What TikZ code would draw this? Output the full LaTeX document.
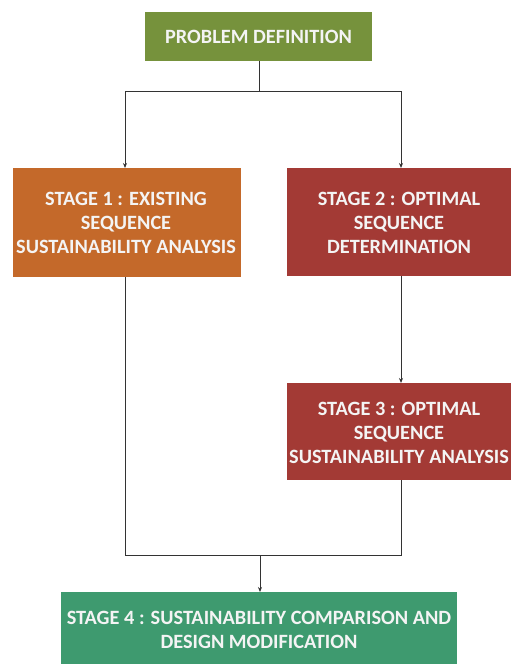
\documentclass[tikz,border=0pt]{standalone}
\usepackage{fontspec}
\setmainfont{Carlito}
\usetikzlibrary{arrows.meta}
\definecolor{olivebox}{HTML}{76923C}
\definecolor{orangebox}{HTML}{C4692A}
\definecolor{redbox}{HTML}{A33A35}
\definecolor{greenbox}{HTML}{3E9A6F}
\definecolor{txt}{HTML}{F4F4F4}
\begin{document}
\begin{tikzpicture}[x=1pt,y=-1pt,
  boxstyle/.style={draw=none,text=txt,font=\bfseries\fontsize{20.3}{24}\selectfont,align=center,inner sep=0pt},
  conn/.style={draw=black!80,line width=1pt},
  arr/.style={conn,-{Stealth[length=5pt,width=4pt]}}]
\useasboundingbox (0,0) rectangle (511,664);
\fill[olivebox] (145,12) rectangle (372,61);
\node[boxstyle] (pd) at (258.5,36.5) {PROBLEM DEFINITION};
\fill[orangebox] (13,168) rectangle (241,277);
\node[boxstyle] (s1) at (126,223) {STAGE 1 : EXISTING\\SEQUENCE\\SUSTAINABILITY ANALYSIS};
\fill[redbox] (287,168) rectangle (511,276);
\node[boxstyle] (s2) at (399,223) {STAGE 2 : OPTIMAL\\SEQUENCE\\DETERMINATION};
\fill[redbox] (287,383) rectangle (511,480);
\node[boxstyle] (s3) at (399,433) {STAGE 3 : OPTIMAL\\SEQUENCE\\SUSTAINABILITY ANALYSIS};
\fill[greenbox] (61,592) rectangle (457,664);
\node[boxstyle] (s4) at (259,630) {STAGE 4 : SUSTAINABILITY COMPARISON AND\\DESIGN MODIFICATION};
\coordinate (pdb) at (259,61);
\coordinate (top) at (259,91);
\coordinate (tl) at (125,91);
\coordinate (tr) at (401,91);
\coordinate (s1t) at (125,168);
\coordinate (s2t) at (401,168);
\coordinate (s1b) at (125,277);
\coordinate (s2b) at (401,276);
\coordinate (s3t) at (401,383);
\coordinate (s3b) at (401,480);
\coordinate (bl) at (125,555);
\coordinate (br) at (401,555);
\coordinate (bm) at (260,555);
\coordinate (s4t) at (260,592);
\draw[conn] (pdb) -- (top);
\draw[arr] (tr) -- (tl) -- (s1t);
\draw[arr] (tl) -- (tr) -- (s2t);
\draw[arr] (s2b) -- (s3t);
\draw[conn] (s1b) -- (bl) -- (br) -- (s3b);
\draw[arr] (bm) -- (s4t);
\end{tikzpicture}
\end{document}
